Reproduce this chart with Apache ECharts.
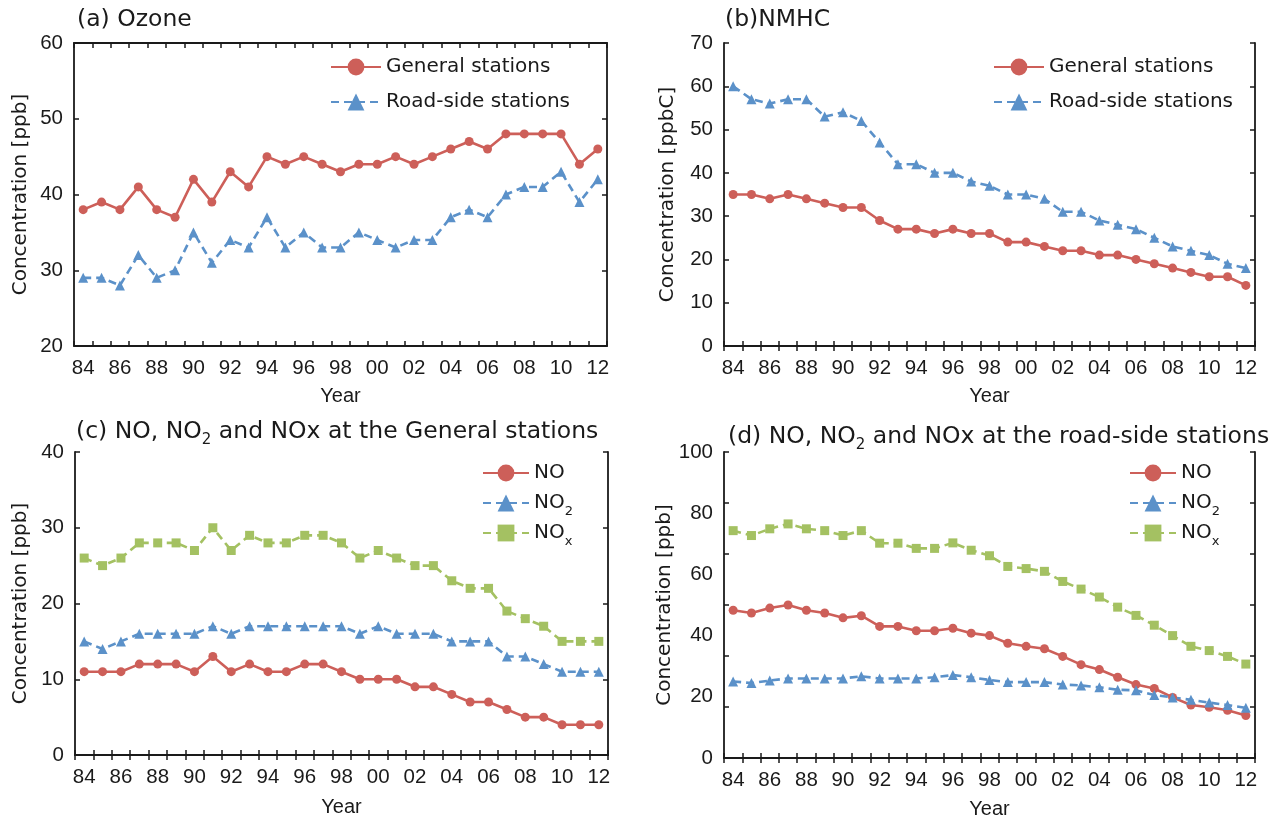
<!DOCTYPE html>
<html><head><meta charset="utf-8">
<script src="https://cdn.jsdelivr.net/npm/echarts@6/dist/echarts.min.js"></script>
<style>html,body{margin:0;padding:0;background:#fff}#c{width:1287px;height:820px}</style>
</head><body><div id="c"></div>
<script>
// ---- data ----
const years = ['84','85','86','87','88','89','90','91','92','93','94','95','96','97','98','99','00','01','02','03','04','05','06','07','08','09','10','11','12'];
const ozoneGeneral = [38,39,38,41,38,37,42,39,43,41,45,44,45,44,43,44,44,45,44,45,46,47,46,48,48,48,48,44,46];
const ozoneRoad    = [29,29,28,32,29,30,35,31,34,33,37,33,35,33,33,35,34,33,34,34,37,38,37,40,41,41,43,39,42];
const nmhcGeneral  = [35,35,34,35,34,33,32,32,29,27,27,26,27,26,26,24,24,23,22,22,21,21,20,19,18,17,16,16,14];
const nmhcRoad     = [60,57,56,57,57,53,54,52,47,42,42,40,40,38,37,35,35,34,31,31,29,28,27,25,23,22,21,19,18];
const genNO  = [11,11,11,12,12,12,11,13,11,12,11,11,12,12,11,10,10,10,9,9,8,7,7,6,5,5,4,4,4];
const genNO2 = [15,14,15,16,16,16,16,17,16,17,17,17,17,17,17,16,17,16,16,16,15,15,15,13,13,12,11,11,11];
const genNOx = [26,25,26,28,28,28,27,30,27,29,28,28,29,29,28,26,27,26,25,25,23,22,22,19,18,17,15,15,15];
const roadNO  = [48.3,47.4,49,50,48.3,47.4,45.8,46.5,43,43,41.6,41.6,42.4,40.8,40,37.5,36.5,35.7,33.2,30.5,28.9,26.4,24,22.7,19.8,17.3,16.6,15.6,13.9];
const roadNO2 = [25,24.5,25.3,26,26,26,26,26.7,26,26,26,26.4,27.1,26.4,25.5,24.8,24.8,24.8,24,23.7,23.1,22.3,22.1,20.6,19.8,19,18.1,17.3,16.4];
const roadNOx = [74.3,72.7,74.9,76.5,74.9,74.3,72.7,74.3,70.2,70.2,68.5,68.5,70.3,67.9,66.1,62.6,61.9,61,57.7,55.2,52.6,49.3,46.6,43.4,40,36.5,35.1,33.2,30.7];
const titles = ['(a) Ozone','(b)NMHC','(c) NO, NO2 and NOx at the General stations','(d) NO, NO2 and NOx at the road-side stations'];
const yNames = ['Concentration [ppb]','Concentration [ppbC]','Concentration [ppb]','Concentration [ppb]'];
const xName = 'Year';
const legendA = ['General stations','Road-side stations'];
const legendC = ['NO','NO2','NOx'];

// ---- style ----
const FONT = 'Liberation Sans';
const WFONT = 'DejaVu Sans';
const TXT = '#1a1a1a';
const RED = '#cd5f59', BLUE = '#5b91c9', GREEN = '#a4c162';
const AX = '#1a1a1a';

const grids = [
  {left:74, top:43, width:533, height:303},
  {left:724, top:43, width:531, height:303},
  {left:75, top:452, width:533, height:303},
  {left:724, top:452, width:531, height:306}
];
const yCfg = [
  {min:20,max:60,interval:10},
  {min:0,max:70,interval:10},
  {min:0,max:40,interval:10},
  {min:0,max:100,interval:20}
];
const yNameGap = [43,46,44,44];
const xNameGap = [40,40,42,41];

const xAxes = [], yAxes = [];
grids.forEach((g,i)=>{
  xAxes.push({
    type:'category', data:years, gridIndex:i, position:'bottom', boundaryGap:true,
    axisLine:{show:true, lineStyle:{color:AX,width:1.8}},
    axisTick:{show:true, inside:true, length:5, interval:0, lineStyle:{color:AX,width:1.5}},
    axisLabel:{interval:1, margin:12, color:TXT, fontSize:20.5, fontFamily:FONT},
    splitLine:{show:false},
    name:xName, nameLocation:'middle', nameGap:xNameGap[i],
    nameTextStyle:{color:TXT, fontSize:20, fontFamily:FONT}
  });
  xAxes.push({
    type:'category', data:years, gridIndex:i, position:'top', boundaryGap:true,
    axisLine:{show:true, lineStyle:{color:AX,width:1.8}},
    axisTick:{show:true, inside:true, length:5, interval:0, lineStyle:{color:AX,width:1.5}},
    axisLabel:{show:false}, splitLine:{show:false}
  });
  const yc = yCfg[i];
  yAxes.push({
    type:'value', gridIndex:i, position:'left', min:yc.min, max:yc.max, interval:yc.interval,
    axisLine:{show:true, lineStyle:{color:AX,width:1.8}},
    axisTick:{show:i!==3, inside:true, length:5, lineStyle:{color:AX,width:1.5}},
    axisLabel:{margin:11, color:TXT, fontSize:20.5, fontFamily:FONT},
    splitLine:{show:false},
    name:yNames[i], nameLocation:'middle', nameGap:yNameGap[i],
    nameTextStyle:{color:TXT, fontSize:20, fontFamily:WFONT}
  });
  yAxes.push({
    type:'value', gridIndex:i, position:'right',
    min: i===3 ? 0 : yc.min, max: i===3 ? 6 : yc.max, interval: i===3 ? 1 : yc.interval,
    axisLine:{show:true, lineStyle:{color:AX,width:1.8}},
    axisTick:{show:true, inside:true, length:5, lineStyle:{color:AX,width:1.5}},
    axisLabel:{show:false}, splitLine:{show:false}
  });
});
// extra left tick axis for panel (d)
yAxes.push({
  type:'value', gridIndex:3, position:'left', min:0, max:6, interval:1,
  axisLine:{show:false},
  axisTick:{show:true, inside:true, length:5, lineStyle:{color:AX,width:1.5}},
  axisLabel:{show:false}, splitLine:{show:false}
});

function mk(name, data, xi, yi, kind){
  const col = kind==='red'?RED:(kind==='blue'?BLUE:GREEN);
  return {
    type:'line', name, data, xAxisIndex:xi, yAxisIndex:yi,
    symbol: kind==='red'?'circle':(kind==='blue'?'triangle':'rect'),
    symbolSize: kind==='red'?9:(kind==='blue'?10:9),
    showAllSymbol:true, animation:false,
    lineStyle:{color:col, width:2.6, type: kind==='red'?'solid':[8,5]},
    itemStyle:{color:col}
  };
}
const series = [
  mk(legendA[0], ozoneGeneral, 0, 0, 'red'),
  mk(legendA[1], ozoneRoad, 0, 0, 'blue'),
  mk(legendA[0], nmhcGeneral, 2, 2, 'red'),
  mk(legendA[1], nmhcRoad, 2, 2, 'blue'),
  mk(legendC[0], genNO, 4, 4, 'red'),
  mk(legendC[1], genNO2, 4, 4, 'blue'),
  mk(legendC[2], genNOx, 4, 4, 'green'),
  mk(legendC[0], roadNO, 6, 6, 'red'),
  mk(legendC[1], roadNO2, 6, 6, 'blue'),
  mk(legendC[2], roadNOx, 6, 6, 'green')
];

const rich = {
  m:{fontSize:20, lineHeight:30, color:TXT, fontFamily:WFONT},
  s:{fontSize:13, verticalAlign:'bottom', color:TXT, fontFamily:WFONT},
  t:{fontSize:23.5, lineHeight:32, color:TXT, fontFamily:WFONT},
  ts:{fontSize:15, verticalAlign:'bottom', color:TXT, fontFamily:WFONT}
};
function legendFmt(n){
  if(n==='NO2') return '{m|NO}{s|2}';
  if(n==='NOx') return '{m|NO}{s|x}';
  return '{m|'+n+'}';
}
function titleFmt(t){
  return '{t|'+t.replace(/ NO2 /, ' NO}{ts|2}{t| ')+'}';
}
function legend(data, left, top, gap, w){
  return {
    data, left, top, orient:'vertical', itemWidth:w, itemHeight:21, itemGap:gap, padding:0,
    formatter:legendFmt, textStyle:{rich, color:TXT, fontSize:20, fontFamily:WFONT, lineHeight:30},
    selectedMode:false
  };
}
const titleTops = [4, 4, 416, 421];
const titleLefts = [77, 725, 76, 728];
const option = {
  animation:false,
  textStyle:{fontFamily:FONT},
  title: titles.map((t,i)=>({
    text:titleFmt(t), left:titleLefts[i], top:titleTops[i], padding:0,
    textStyle:{rich, color:TXT, fontSize:23.5, fontFamily:WFONT, fontWeight:'normal'}
  })),
  grid: grids,
  xAxis: xAxes,
  yAxis: yAxes,
  legend: [
    legend(legendA, 330, 52, 5, 50),
    legend(legendA, 993, 52, 5, 50),
    legend(legendC, 482, 458, 0, 46),
    legend(legendC, 1129, 458, 0, 46)
  ],
  series
};
const chart = echarts.init(document.getElementById('c'), null, {renderer:'canvas'});
chart.setOption(option);
</script>
</body></html>
